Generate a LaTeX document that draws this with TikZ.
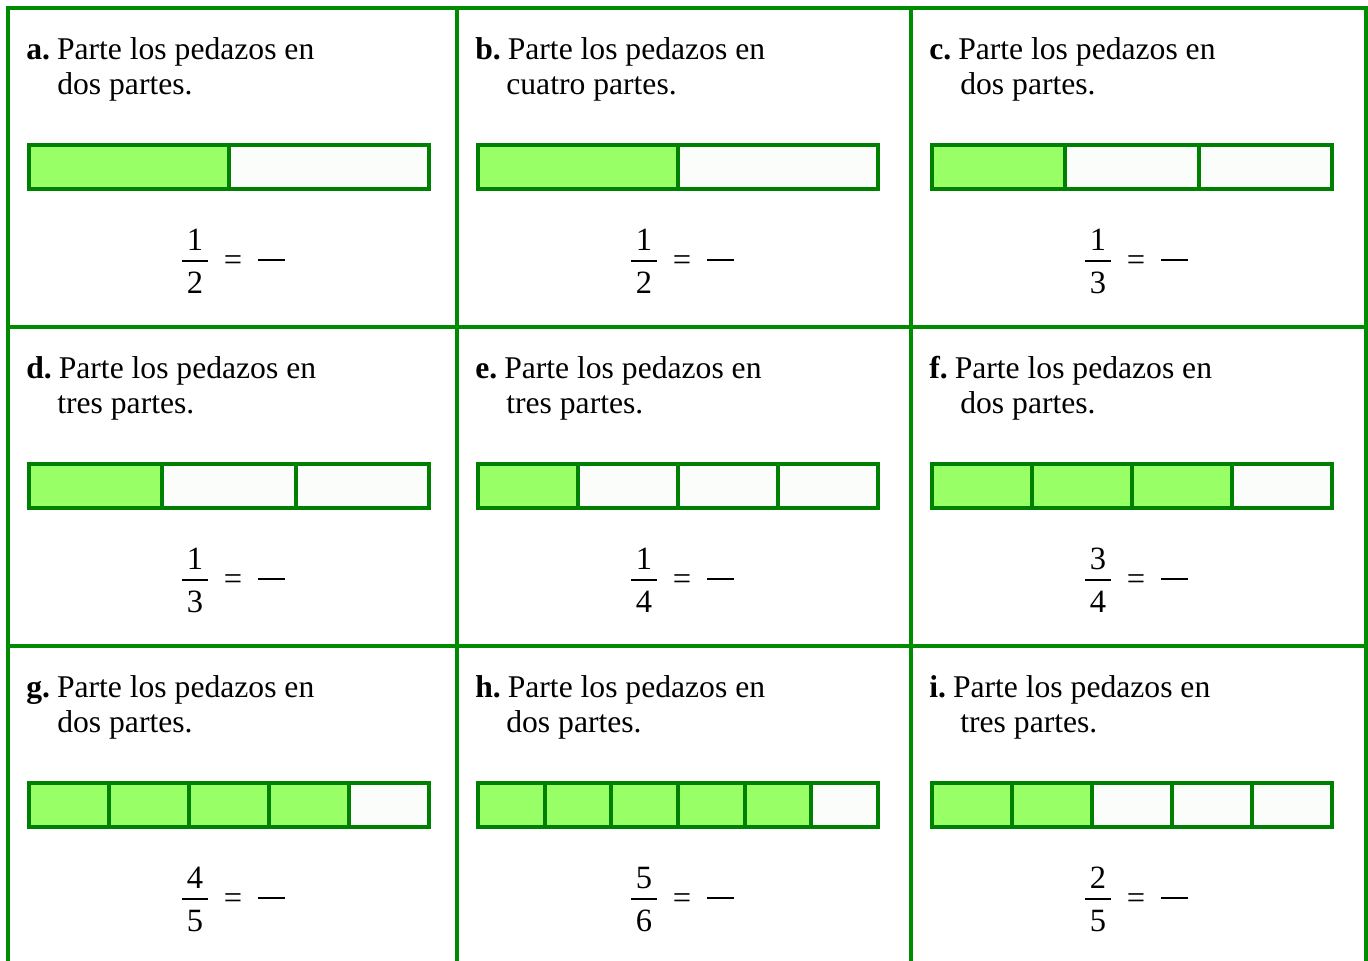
\documentclass[tikz,border=0pt]{standalone}
\usepackage{fontspec}
\setmainfont{Liberation Serif}
\definecolor{cellgreen}{RGB}{0,140,0}
\definecolor{bargreen}{RGB}{0,128,0}
\definecolor{piecegreen}{RGB}{153,255,102}
\definecolor{piecewhite}{RGB}{250,253,250}
\begin{document}
\begin{tikzpicture}[x=0.02cm,y=-0.02cm,
    cellbox/.style={draw=cellgreen,line width=2pt},
    piece/.style={draw=bargreen,line width=2.2pt,fill=piecewhite},
    fullpiece/.style={piece,fill=piecegreen},
    title/.style={anchor=base west,inner sep=0pt,font=\fontsize{18}{21}\selectfont},
    digit/.style={inner sep=0pt,font=\fontsize{18.5}{21}\selectfont}]
  \useasboundingbox (0,0) rectangle (1368,960);
  \clip (0,0) rectangle (1368,960);
  % the grid of cards
  \draw[cellbox] (8,8) rectangle (1366,1000);
  \foreach \x in {457,911}{\draw[cellbox] (\x,8) -- (\x,1000);}
  \foreach \y in {327,646}{\draw[cellbox] (8,\y) -- (1366,\y);}
  % one card: corner / letter / word / parts / shaded / fraction
  \foreach \cx/\cy/\lt/\wrd/\n/\k/\num/\den in {
      8/8/a/dos/2/1/1/2, 457/8/b/cuatro/2/1/1/2, 911/8/c/dos/3/1/1/3,
      8/327/d/tres/3/1/1/3, 457/327/e/tres/4/1/1/4, 911/327/f/dos/4/3/3/4,
      8/646/g/dos/5/4/4/5, 457/646/h/dos/6/5/5/6, 911/646/i/tres/5/2/2/5}{
    \begin{scope}[shift={(\cx,\cy)}]
      \node[title] (t\lt) at (18,51) {\textbf{\lt.}\hspace{0.22em}Parte los pedazos en};
      \node[title] (u\lt) at (49,86) {\wrd\ partes.};
      \foreach \i in {1,...,\n}{
        \ifnum\i>\k \def\sty{piece}\else\def\sty{fullpiece}\fi
        \draw[\sty] ({21+(\i-1)*400/\n},137) rectangle ({21+\i*400/\n},181);
      }
      \node[digit] (n\lt) at (187,232) {\num};
      \draw[line width=1.3pt] (174,253) -- (200,253);
      \node[digit] (d\lt) at (187,275) {\den};
      \node[digit] (e\lt) at (225,255) {=};
      \draw[line width=1.3pt] (250,252) -- (277,252);
    \end{scope}
  }
\end{tikzpicture}
\end{document}
